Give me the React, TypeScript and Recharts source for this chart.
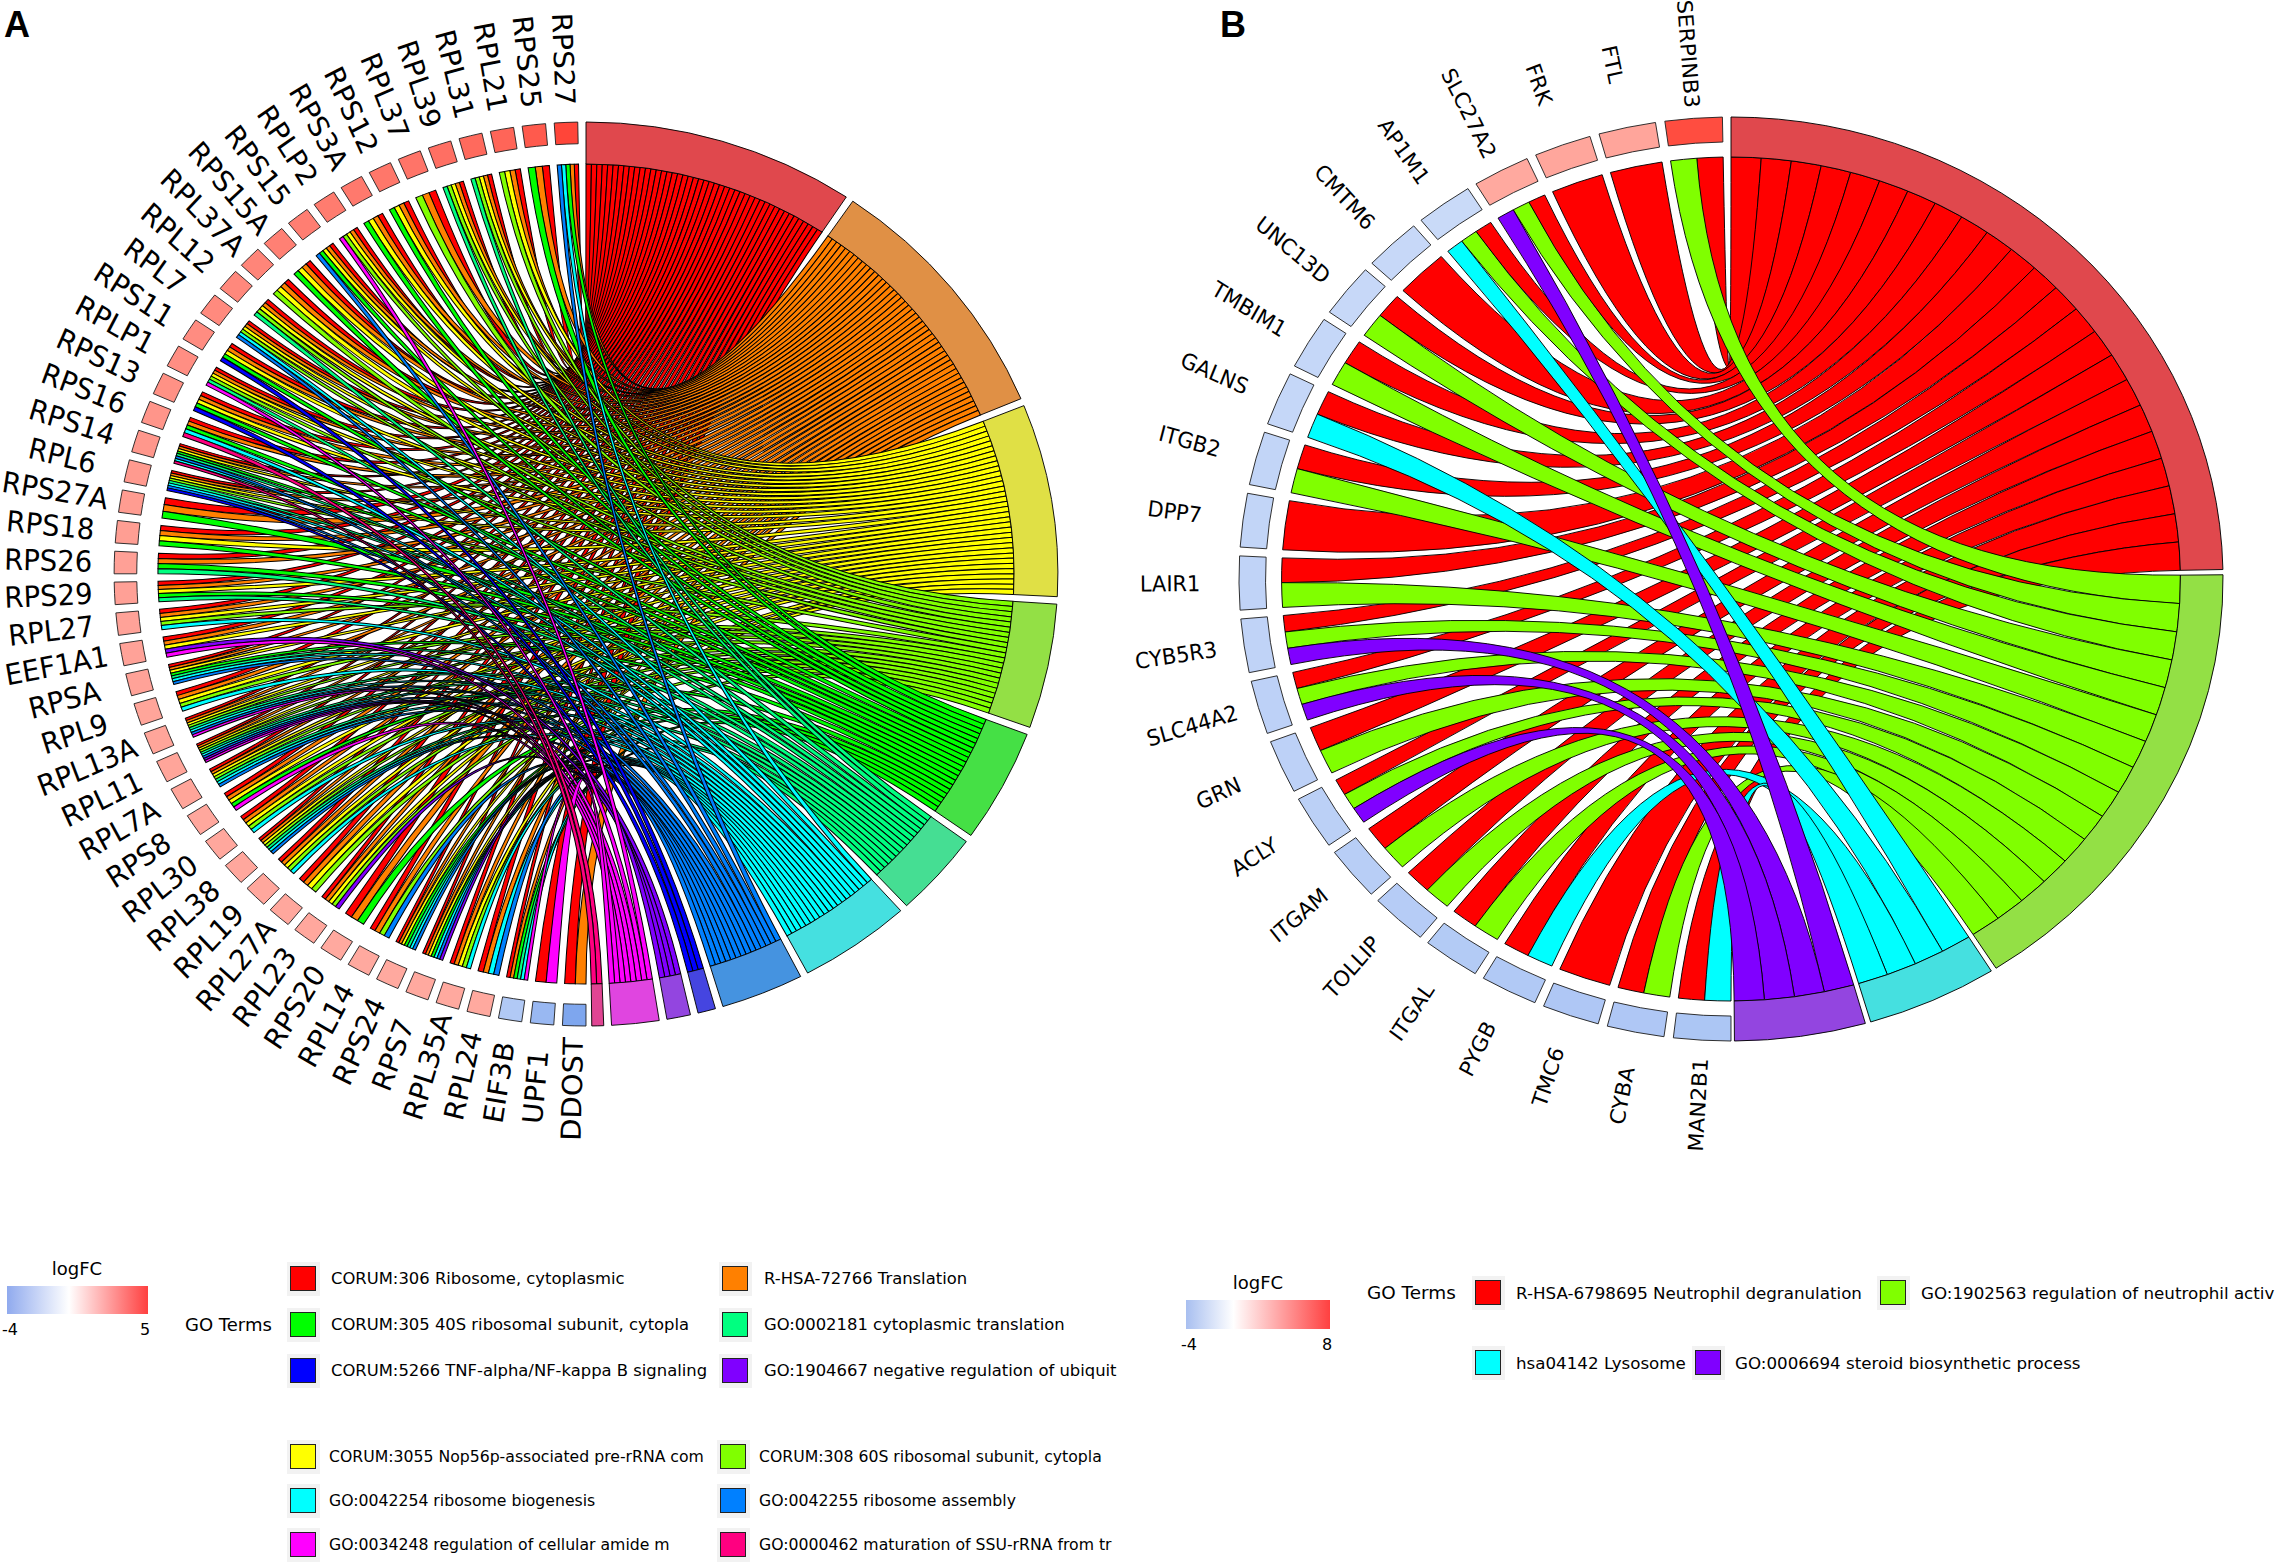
import { PieChart, Pie, Cell } from 'recharts'

const FONT = '"DejaVu Sans", sans-serif'

// ---- panel A ----
const termKeysA = 'roylgscabpmk'
const termNamesA = [
  'CORUM:306 Ribosome, cytoplasmic',
  'R-HSA-72766 Translation',
  'CORUM:3055 Nop56p-associated pre-rRNA com',
  'CORUM:308 60S ribosomal subunit, cytopla',
  'CORUM:305 40S ribosomal subunit, cytopla',
  'GO:0002181 cytoplasmic translation',
  'GO:0042254 ribosome biogenesis',
  'GO:0042255 ribosome assembly',
  'CORUM:5266 TNF-alpha/NF-kappa B signaling',
  'GO:1904667 negative regulation of ubiquit',
  'GO:0034248 regulation of cellular amide m',
  'GO:0000462 maturation of SSU-rRNA from tr',
]
const ribbonColorsA = ['#ff0000', '#ff8000', '#ffff00', '#80ff00', '#00ff00', '#00ff80', '#00ffff', '#0080ff', '#0000ff', '#8000ff', '#ff00ff', '#ff0080']
const termFillsA = ['#e0484d', '#e09045', '#e0e045', '#93e045', '#45e045', '#45de93', '#45e0e0', '#4593e0', '#4545e0', '#9345e0', '#e045e0', '#e04593']
const genesA = [
  'RPS27', 'RPS25', 'RPL21', 'RPL31', 'RPL39', 'RPL37', 'RPS12', 'RPS3A', 'RPLP2', 'RPS15', 'RPS15A', 'RPL37A',
  'RPL12', 'RPL7', 'RPS11', 'RPLP1', 'RPS13', 'RPS16', 'RPS14', 'RPL6', 'RPS27A', 'RPS18', 'RPS26', 'RPS29',
  'RPL27', 'EEF1A1', 'RPSA', 'RPL9', 'RPL13A', 'RPL11', 'RPL7A', 'RPS8', 'RPL30', 'RPL38', 'RPL19', 'RPL27A',
  'RPL23', 'RPS20', 'RPL14', 'RPS24', 'RPS7', 'RPL35A', 'RPL24', 'EIF3B', 'UPF1', 'DDOST',
]
const logFCA = [
  4.25, 3.9, 3.7, 3.6, 3.5, 3.4, 3.35, 3.3, 3.25, 3.2, 3.15, 3.05,
  3.0, 2.95, 2.9, 2.85, 2.8, 2.7, 2.65, 2.6, 2.55, 2.5, 2.45, 2.45,
  2.4, 2.4, 2.4, 2.35, 2.35, 2.35, 2.35, 2.3, 2.3, 2.3, 2.3, 2.3,
  2.3, 2.25, 2.25, 2.25, 2.25, 2.25, 2.25, -1.6, -2.1, -2.65,
]
const geneTermsA = [
  'rogca', 'rog', 'royl', 'royls', 'royls', 'rol', 'royg', 'royg', 'roylm', 'royga', 'royg', 'royl',
  'royls', 'roylca', 'roygb', 'roylsm', 'roygb', 'rogck', 'roygsack', 'roylscab', 'rog', 'royg', 'rogs', 'roygs',
  'roylc', 'roypm', 'roygsca', 'roylc', 'roylscam', 'roylscapm', 'roylsca', 'roygm', 'roylc', 'roylsca', 'roylc', 'royl',
  'roylp', 'rog', 'rola', 'roygsca', 'roygcap', 'roylc', 'roca', 'rogscm', 'rm', 'ro',
]

// ---- panel B ----
const termKeysB = 'rgcp'
const termNamesB = [
  'R-HSA-6798695 Neutrophil degranulation',
  'GO:1902563 regulation of neutrophil activ',
  'hsa04142 Lysosome',
  'GO:0006694 steroid biosynthetic process',
]
const ribbonColorsB = ['#ff0000', '#80ff00', '#00ffff', '#8000ff']
const termFillsB = ['#e0484d', '#93e045', '#45e0e0', '#9345e0']
const genesB = [
  'SERPINB3', 'FTL', 'FRK', 'SLC27A2', 'AP1M1', 'CMTM6', 'UNC13D', 'TMBIM1', 'GALNS', 'ITGB2', 'DPP7', 'LAIR1',
  'CYB5R3', 'SLC44A2', 'GRN', 'ACLY', 'ITGAM', 'TOLLIP', 'ITGAL', 'PYGB', 'TMC6', 'CYBA', 'MAN2B1',
]
const logFCB = [6.6, 3.75, 3.7, 3.6, -1.1, -1.15, -1.15, -1.2, -1.2, -1.25, -1.25, -1.3, -1.3, -1.35, -1.35, -1.4, -1.45, -1.5, -1.55, -1.6, -1.65, -1.65, -1.7]
const geneTermsB = ['rg', 'r', 'r', 'rgp', 'rgc', 'r', 'rg', 'rg', 'rc', 'rg', 'r', 'rg', 'rgp', 'rgp', 'rg', 'rgp', 'rg', 'rg', 'rg', 'rc', 'r', 'rg', 'rc']

// clockwise degrees from 12 o'clock, same split as Pie with paddingAngle
function splitAngles(values: number[], total: number, pad: number) {
  const sum = values.reduce((a, b) => a + b, 0)
  const real = total - (values.length - 1) * pad
  let at = 0
  return values.map((v) => {
    const w = (v / sum) * real
    const out = [at, at + w]
    at += w + pad
    return out
  })
}

function lfcColor(v: number, min: number, max: number) {
  if (v >= 0) {
    const t = 1 - v / max
    return `rgb(255,${Math.round(255 * Math.pow(t, 0.69))},${Math.round(255 * Math.pow(t, 0.79))})`
  }
  const t = v / min
  const mix = (a: number) => Math.round(255 + (a - 255) * t)
  return `rgb(${mix(60)},${mix(120)},${mix(230)})`
}

function Ribbons({ panel }: any) {
  const { cx, cy, rim, termKeys, geneTerms, ribbonColors, termEnd, termPad, genePad, strokeWidth } = panel
  const counts = termKeys.split('').map((k: string) => geneTerms.filter((g: string) => g.includes(k)).length)
  const termSpans = splitAngles(counts, termEnd, termPad)
  const geneSpans = splitAngles(geneTerms.map(() => 1), 179, genePad)
  const pt = (deg: number) => {
    const a = (deg * Math.PI) / 180
    return `${(cx + rim * Math.sin(a)).toFixed(2)} ${(cy - rim * Math.cos(a)).toFixed(2)}`
  }
  const paths: any[] = []
  termKeys.split('').forEach((key: string, t: number) => {
    const slot = (termSpans[t][1] - termSpans[t][0]) / counts[t]
    let used = 0
    geneTerms.forEach((terms: string, g: number) => {
      const k = terms.indexOf(key)
      if (k < 0) return
      const ts = termSpans[t][0] + used * slot
      const te = ts + slot
      used += 1
      const gw = (geneSpans[g][1] - geneSpans[g][0]) / terms.length
      const ge = 359 - geneSpans[g][0] - k * gw
      const gs = ge - gw
      const d = `M${pt(ge)} Q${cx} ${cy} ${pt(ts)} A${rim} ${rim} 0 0 1 ${pt(te)} Q${cx} ${cy} ${pt(gs)} A${rim} ${rim} 0 0 1 ${pt(ge)} Z`
      paths.push(<path key={`${t}-${g}`} d={d} fill={ribbonColors[t]} stroke="#000" strokeWidth={strokeWidth} />)
    })
  })
  return <g>{paths}</g>
}

function Panel({ panel }: any) {
  const { left, sx, width, height, cx, cy, R, termKeys, termFills, termNames, genes, logFC, geneTerms, lfcMin, lfcMax, labelSize, labelSx, blockInner, termEnd, termPad, genePad } = panel
  const termData = termNames.map((name: string, i: number) => ({
    name,
    value: geneTerms.filter((g: string) => g.includes(termKeys[i])).length,
  }))
  const geneData = genes.map((name: string) => ({ name, value: 1 }))
  const renderLabel = (p: any) => {
    const a = (p.midAngle * Math.PI) / 180
    const x = cx + R * 1.14 * Math.cos(a)
    const y = cy - R * 1.14 * Math.sin(a)
    return (
      <text key={p.name} transform={`translate(${x} ${y}) scale(${labelSx / sx} 1) rotate(${180 - p.midAngle})`} textAnchor="middle" dominantBaseline="central" fontFamily={FONT} fontSize={labelSize} fill="#000">
        {p.name}
      </text>
    )
  }
  return (
    <div style={{ position: 'absolute', left, top: 0, transform: `scaleX(${sx})`, transformOrigin: '0 0' }}>
      <PieChart width={width} height={height} margin={{ top: 0, right: 0, bottom: 0, left: 0 }}>
        <Ribbons panel={panel} />
        <Pie
          data={termData}
          dataKey="value"
          cx={cx}
          cy={cy}
          startAngle={90}
          endAngle={90 - termEnd}
          paddingAngle={termPad}
          innerRadius={panel.rim}
          outerRadius={R}
          stroke="#000"
          strokeWidth={0.9}
          isAnimationActive={false}
        >
          {termData.map((d: any, i: number) => (
            <Cell key={d.name} fill={termFills[i]} />
          ))}
        </Pie>
        <Pie
          data={geneData}
          dataKey="value"
          cx={cx}
          cy={cy}
          startAngle={91}
          endAngle={270}
          paddingAngle={genePad}
          innerRadius={R * blockInner}
          outerRadius={R}
          stroke="#222"
          strokeWidth={0.9}
          label={renderLabel}
          labelLine={false}
          isAnimationActive={false}
        >
          {geneData.map((d: any, i: number) => (
            <Cell key={d.name} fill={lfcColor(logFC[i], lfcMin, lfcMax)} />
          ))}
        </Pie>
      </PieChart>
    </div>
  )
}

const abs = (x: number, y: number, extra: any = {}) => ({ position: 'absolute', left: x, top: y, fontFamily: FONT, whiteSpace: 'nowrap', ...extra })

function Txt({ x, y, size, children, center }: any) {
  return <div style={abs(x, y, { fontSize: size, lineHeight: 1, transform: center ? 'translate(-50%,-50%)' : 'translateY(-50%)' })}>{children}</div>
}

function Key({ x, y, color }: any) {
  return (
    <div style={abs(x - 3, y - 17, { width: 33, height: 34, background: '#f2f2f2' })}>
      <div style={{ position: 'absolute', left: 3, top: 4, width: 24, height: 23, background: color, border: '1.5px solid #222' }} />
    </div>
  )
}

const panelA = {
  left: -30, sx: 1.044, width: 1210, height: 1180, cx: (586 + 30) / 1.044, cy: 574, R: 452, rim: 410,
  termKeys: termKeysA, termNames: termNamesA, termFills: termFillsA, ribbonColors: ribbonColorsA,
  genes: genesA, logFC: logFCA, geneTerms: geneTermsA, lfcMin: -4, lfcMax: 5,
  labelSize: 29, labelSx: 0.95, blockInner: 0.952, termEnd: 179.3, termPad: 0.95, genePad: 1.05, strokeWidth: 1,
}
const panelB = {
  left: 1100, sx: 1.065, width: 1110, height: 1200, cx: (1731 - 1100) / 1.065, cy: 579, R: 462, rim: 422,
  termKeys: termKeysB, termNames: termNamesB, termFills: termFillsB, ribbonColors: ribbonColorsB,
  genes: genesB, logFC: logFCB, geneTerms: geneTermsB, lfcMin: -4, lfcMax: 8,
  labelSize: 22, labelSx: 0.95, blockInner: 0.946, termEnd: 179.6, termPad: 0.65, genePad: 1.1, strokeWidth: 0.9,
}

// legend rows for panel A: [key x, text x, row y, font size]
const legendRowsA = [
  [290, 331, 1279, 16.4], [722, 764, 1279, 16.4], [290, 331, 1325, 16.4], [722, 764, 1325, 16.4], [290, 331, 1371, 16.4], [722, 764, 1371, 16.4],
  [290, 329, 1457, 15.7], [720, 759, 1457, 15.7], [290, 329, 1501, 15.7], [720, 759, 1501, 15.7], [290, 329, 1545, 15.7], [720, 759, 1545, 15.7],
]
const legendOrderA = [0, 1, 4, 5, 8, 9, 2, 3, 6, 7, 10, 11]
const legendRowsB = [[1475, 1516, 1293], [1880, 1921, 1293], [1475, 1516, 1363], [1695, 1735, 1363]]

export default function App() {
  return (
    <div style={{ position: 'absolute', left: 0, top: 0, width: 2281, height: 1565, overflow: 'hidden', background: '#fff' }}>
      <Panel panel={panelA} />
      <Panel panel={panelB} />
      <div style={abs(4, 4, { fontFamily: '"Liberation Sans"', fontWeight: 700, fontSize: 36, lineHeight: '42px' })}>A</div>
      <div style={abs(1220, 4, { fontFamily: '"Liberation Sans"', fontWeight: 700, fontSize: 36, lineHeight: '42px' })}>B</div>

      <Txt x={77} y={1269} size={18} center>logFC</Txt>
      <div style={abs(7, 1286, { width: 141, height: 28, background: 'linear-gradient(90deg,#90aaee 0%,#ffffff 44%,#ff4040 100%)' })} />
      <Txt x={10} y={1330} size={16} center>-4</Txt>
      <Txt x={145} y={1330} size={16} center>5</Txt>
      <Txt x={185} y={1325} size={18}>GO Terms</Txt>
      {legendOrderA.map((t, i) => (
        <div key={t}>
          <Key x={legendRowsA[i][0]} y={legendRowsA[i][2]} color={ribbonColorsA[t]} />
          <Txt x={legendRowsA[i][1]} y={legendRowsA[i][2]} size={legendRowsA[i][3]}>{termNamesA[t]}</Txt>
        </div>
      ))}

      <Txt x={1258} y={1283} size={18} center>logFC</Txt>
      <div style={abs(1186, 1300, { width: 144, height: 29, background: 'linear-gradient(90deg,#a8bff0 0%,#ffffff 33%,#ff4040 100%)' })} />
      <Txt x={1189} y={1345} size={16} center>-4</Txt>
      <Txt x={1327} y={1345} size={16} center>8</Txt>
      <Txt x={1367} y={1293} size={18.4}>GO Terms</Txt>
      {legendRowsB.map((row, i) => (
        <div key={i}>
          <Key x={row[0]} y={row[2]} color={ribbonColorsB[i]} />
          <Txt x={row[1]} y={row[2]} size={16.7}>{termNamesB[i]}</Txt>
        </div>
      ))}
    </div>
  )
}
